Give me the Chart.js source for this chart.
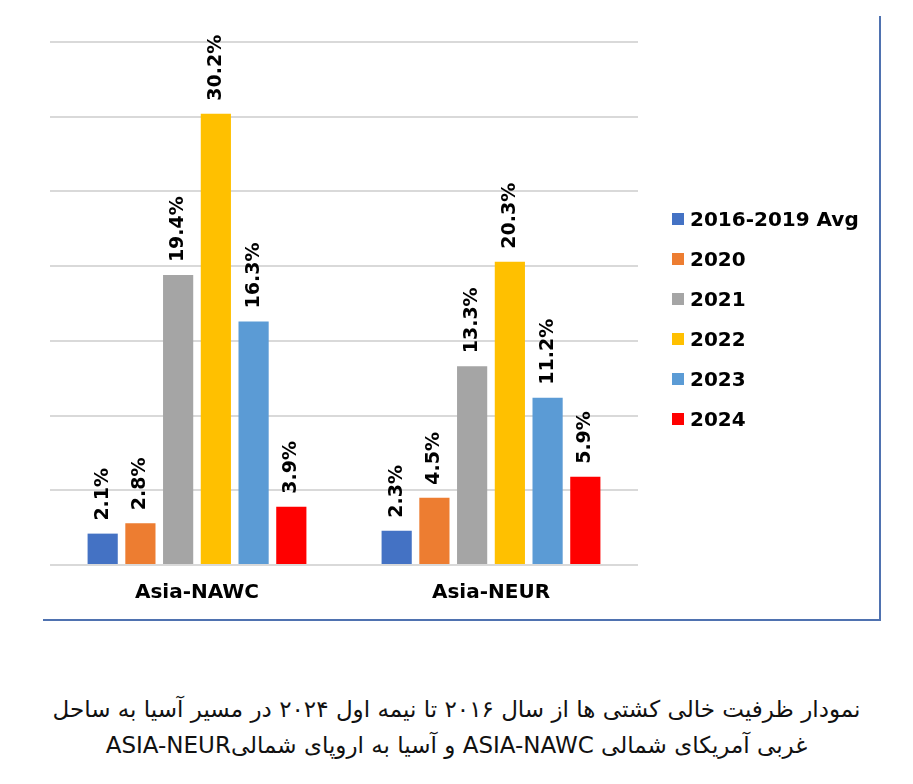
<!DOCTYPE html>
<html>
<head>
<meta charset="utf-8">
<script src="https://cdn.jsdelivr.net/npm/chart.js"></script>
<style>
  body { margin: 0; background: #fff; width: 913px; height: 784px; position: relative; overflow: hidden; }
  #frame { position: absolute; left: 43px; top: 16px; width: 836px; height: 603px;
           border-right: 2px solid #4f72b0; border-bottom: 2px solid #4f72b0; }
  #wrap { position: absolute; left: 0; top: 0; width: 878px; height: 618px; }
  #legend { position: absolute; left: 672px; top: 199px; font-family: "DejaVu Sans", sans-serif;
            font-weight: bold; font-size: 20px; color: #000; }
  #legend div { height: 40px; display: flex; align-items: center; white-space: nowrap; }
  #legend span.box { display: inline-block; width: 12px; height: 12px; margin-right: 6px; }
  #caption { position: absolute; left: 0; top: 691px; width: 913px; text-align: center;
             direction: rtl; font-family: "DejaVu Sans", sans-serif; font-size: 23px;
             line-height: 36px; color: #111; white-space: nowrap; }
</style>
</head>
<body>
<div id="frame"></div>
<div id="wrap"><canvas id="chart"></canvas></div>
<div id="legend"></div>
<div id="caption">نمودار ظرفیت خالی کشتی ها از سال ۲۰۱۶ تا نیمه اول  ۲۰۲۴ در مسیر آسیا به ساحل<br>غربی آمریکای شمالی ASIA-NAWC و آسیا به اروپای شمالیASIA-NEUR</div>
<script>
// Données
const categories = ['Asia-NAWC', 'Asia-NEUR'];
const seriesNames = ['2016-2019 Avg', '2020', '2021', '2022', '2023', '2024'];
const seriesColors = ['#4472c4', '#ed7d31', '#a5a5a5', '#ffc000', '#5b9bd5', '#ff0000'];
const avg2016_2019 = [2.1, 2.3];
const y2020 = [2.8, 4.5];
const y2021 = [19.4, 13.3];
const y2022 = [30.2, 20.3];
const y2023 = [16.3, 11.2];
const y2024 = [3.9, 5.9];
const yTicks = [0, 5, 10, 15, 20, 25, 30, 35];

const seriesValues = [avg2016_2019, y2020, y2021, y2022, y2023, y2024];
const boldFont = '"DejaVu Sans", sans-serif';

// Étiquettes verticales au-dessus des barres
const barLabels = {
    id: 'barLabels',
    afterDatasetsDraw(chart) {
        const ctx = chart.ctx;
        ctx.save();
        ctx.font = 'bold 19px ' + boldFont;
        ctx.fillStyle = '#000';
        ctx.textAlign = 'left';
        ctx.textBaseline = 'middle';
        chart.data.datasets.forEach((ds, i) => {
            chart.getDatasetMeta(i).data.forEach((bar, j) => {
                ctx.save();
                ctx.translate(bar.x, bar.y - 13);
                ctx.rotate(-Math.PI / 2);
                ctx.fillText(ds.data[j].toFixed(1) + '%', 0, 0);
                ctx.restore();
            });
        });
        ctx.restore();
    }
};

// Légende HTML construite à partir des datasets
const htmlLegend = {
    id: 'htmlLegend',
    afterUpdate(chart) {
        const box = document.getElementById('legend');
        box.innerHTML = '';
        chart.data.datasets.forEach(ds => {
            const row = document.createElement('div');
            const sw = document.createElement('span');
            sw.className = 'box';
            sw.style.background = ds.backgroundColor;
            row.appendChild(sw);
            row.appendChild(document.createTextNode(ds.label));
            box.appendChild(row);
        });
    }
};

new Chart(document.getElementById('chart'), {
    type: 'bar',
    data: {
        labels: categories,
        datasets: seriesNames.map((name, i) => ({
            label: name,
            data: seriesValues[i],
            backgroundColor: seriesColors[i],
            barPercentage: 0.8,
            categoryPercentage: 0.77
        }))
    },
    options: {
        responsive: true,
        maintainAspectRatio: false,
        animation: false,
        layout: { padding: { left: 50, top: 42, right: 240, bottom: 5 } },
        plugins: {
            legend: { display: false },
            tooltip: { enabled: false }
        },
        scales: {
            x: {
                grid: { display: false },
                border: { display: false },
                ticks: {
                    color: '#000',
                    padding: 8,
                    font: { family: boldFont, size: 20, weight: 'bold' }
                }
            },
            y: {
                min: 0,
                max: 35,
                afterBuildTicks: axis => { axis.ticks = yTicks.map(v => ({ value: v })); },
                grid: { color: '#d9d9d9', lineWidth: 2, drawTicks: false },
                border: { display: false },
                ticks: { display: false }
            }
        }
    },
    plugins: [barLabels, htmlLegend]
});
</script>
</body>
</html>
